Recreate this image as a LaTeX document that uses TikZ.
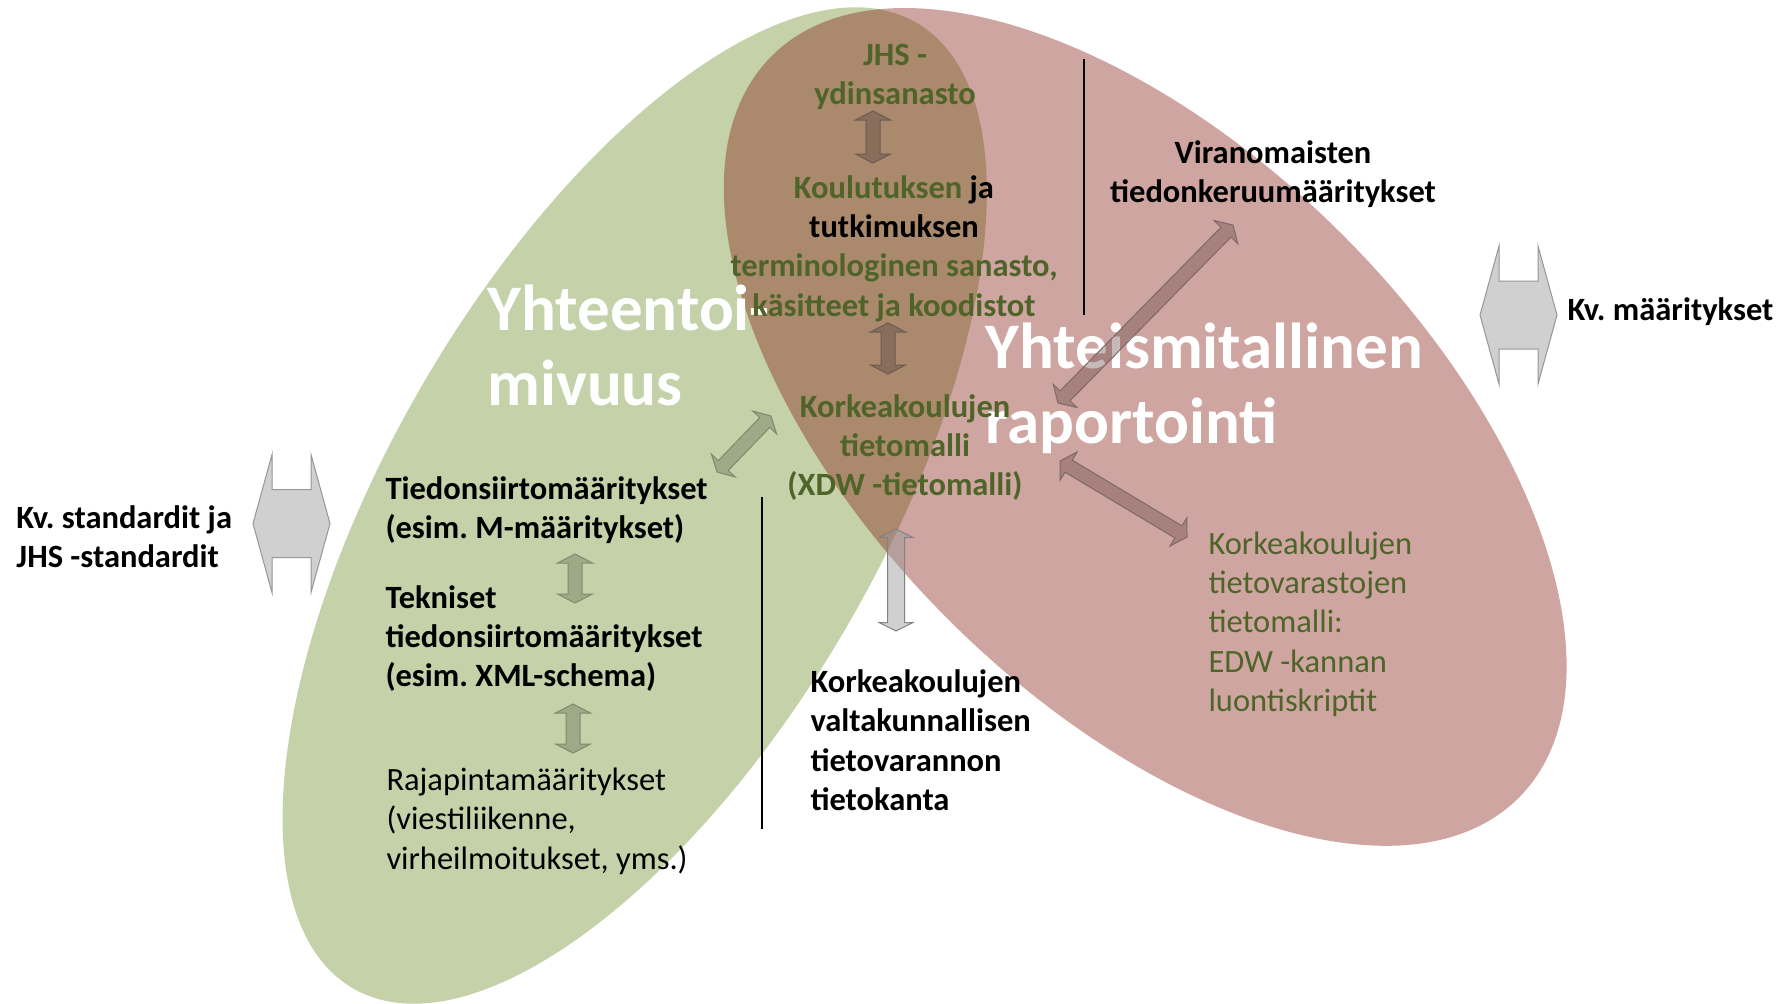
\documentclass[tikz,border=0pt]{standalone}
\usepackage{fontspec}
\setmainfont{Carlito}
\usetikzlibrary{calc}
\frenchspacing

\definecolor{ellgreen}{RGB}{196,209,169}
\definecolor{ellred}{RGB}{135,30,20}
\definecolor{olivetext}{RGB}{79,100,40}

% block arrow with two heads: [style]{from}{to}{head length}{shaft half width}{head half width}
\newcommand{\biarrow}[6][]{%
\draw [#1] (#2) -- ($(#2)!#4!(#3)!#6!90:(#3)$) -- ($(#2)!#4!(#3)!#5!90:(#3)$) -- ($(#3)!#4!(#2)!#5!-90:(#2)$) -- ($(#3)!#4!(#2)!#6!-90:(#2)$) -- (#3) -- ($(#3)!#4!(#2)!#6!90:(#2)$) -- ($(#3)!#4!(#2)!#5!90:(#2)$) -- ($(#2)!#4!(#3)!#5!-90:(#3)$) -- ($(#2)!#4!(#3)!#6!-90:(#3)$) -- cycle ;}

\tikzset{
  txt/.style={inner sep=0pt, anchor=north west, align=left, font=\fontsize{13}{15.7}\selectfont\bfseries},
  ctxt/.style={txt, anchor=north, align=center},
  regtxt/.style={txt, font=\fontsize{13}{15.7}\selectfont},
  bigtxt/.style={txt, text=white, font=\fontsize{26}{30}\selectfont\bfseries},
  brownarr/.style={fill={rgb,255:red,138;green,110;blue,92}, draw={rgb,255:red,105;green,90;blue,85}, line width=0.4pt},
  greenarr/.style={fill={rgb,255:red,157;green,170;blue,135}, draw={rgb,255:red,125;green,138;blue,108}, line width=0.4pt},
  grayarr/.style={fill={rgb,255:red,150;green,150;blue,150}, fill opacity=0.45, draw={rgb,255:red,130;green,130;blue,130}, line width=0.4pt},
  redarr/.style={fill={rgb,255:red,90;green,60;blue,60}, fill opacity=0.35, draw={rgb,255:red,125;green,105;blue,105}, line width=0.4pt},
  kvarr/.style={fill={rgb,255:red,208;green,208;blue,208}, draw={rgb,255:red,150;green,150;blue,150}, line width=0.4pt},
}

\begin{document}
\begin{tikzpicture}[x=0.4pt,y=0.4pt,yscale=-1,xscale=1]
\useasboundingbox (0,0) rectangle (1785,1003);

%Shape: Ellipse [Yhteentoimivuus]
\fill [ellgreen, shift={(634.7,505.5)}, rotate=-59.7] (0,0) ellipse [x radius=559, y radius=244.2];
%Shape: Ellipse [Yhteismitallinen raportointi]
\fill [ellred, fill opacity=0.4, shift={(1145.2,426.9)}, rotate=44.7] (0,0) ellipse [x radius=526.4, y radius=275.4];

% Text Node
\draw (487,277.5) node (yhte) [bigtxt] {\strut Yhteentoi-\\mivuus};
% Text Node
\draw (985,315.5) node (yhtm) [bigtxt] {\strut Yhteismitallinen\\raportointi};

% Text Node
\draw (895,37.5) node (jhs) [ctxt, text=olivetext] {\strut JHS -\\ydinsanasto};
% Text Node
\draw (894,170.5) node (kou) [ctxt] {\strut\textcolor{olivetext}{Koulutuksen} ja\\tutkimuksen\\\textcolor{olivetext}{terminologinen sanasto,}\\\textcolor{olivetext}{käsitteet ja koodistot}};
% Text Node
\draw (905,389.5) node (xdw) [ctxt, text=olivetext] {\strut Korkeakoulujen\\tietomalli\\(XDW -tietomalli)};
% Text Node
\draw (1273,135.5) node (vir) [ctxt] {\strut Viranomaisten\\tiedonkeruumääritykset};
% Text Node
\draw (385,471.5) node (tied) [txt] {\strut Tiedonsiirtomääritykset\\(esim. M-määritykset)};
% Text Node
\draw (385,580.5) node (tek) [txt] {\strut Tekniset\\tiedonsiirtomääritykset\\(esim. XML-schema)};
% Text Node
\draw (386,762.5) node (raja) [regtxt] {\strut Rajapintamääritykset\\(viestiliikenne,\\virheilmoitukset, yms.)};
% Text Node
\draw (16,500.5) node (kvst) [txt] {\strut Kv. standardit ja\\JHS -standardit};
% Text Node
\draw (1567,292.5) node (kvm) [txt] {\strut Kv. määritykset};
% Text Node
\draw (810,664.5) node (valt) [txt] {\strut Korkeakoulujen\\valtakunnallisen\\tietovarannon\\tietokanta};
% Text Node
\draw (1208,526.5) node (edw) [regtxt, text=olivetext] {\strut Korkeakoulujen\\tietovarastojen\\tietomalli:\\EDW -kannan\\luontiskriptit};

%Straight Lines
\draw [line width=0.6pt] (1084,59) -- (1084,315) ;
%Straight Lines
\draw [line width=0.6pt] (762,497) -- (762,829) ;

% arrow ends
\coordinate (jhsA) at (873,111);  \coordinate (jhsB) at (873,163);
\coordinate (kouA) at (888,323);  \coordinate (kouB) at (888,374);
\coordinate (tiedA) at (717,472); \coordinate (tiedB) at (771,416);
\coordinate (tekA) at (575,554);  \coordinate (tekB) at (575,603);
\coordinate (rajaA) at (573,704); \coordinate (rajaB) at (573,753);
\coordinate (valtA) at (896,529); \coordinate (valtB) at (896,631);
\coordinate (virA) at (1233,225); \coordinate (virB) at (1058,403);
\coordinate (edwA) at (1060,461); \coordinate (edwB) at (1187,537);
\coordinate (kvstA) at (253,523.5); \coordinate (kvstB) at (330,523.5);
\coordinate (kvmA) at (1480,315); \coordinate (kvmB) at (1557,315);

%Up Down Arrows
\biarrow[brownarr]{jhsA}{jhsB}{3.6pt}{2.8pt}{7pt}
\biarrow[brownarr]{kouA}{kouB}{3.6pt}{2.8pt}{7pt}
\biarrow[greenarr]{tiedA}{tiedB}{3.6pt}{2.8pt}{6.6pt}
\biarrow[greenarr]{tekA}{tekB}{3.6pt}{2.8pt}{7pt}
\biarrow[greenarr]{rajaA}{rajaB}{3.6pt}{2.8pt}{7pt}
\biarrow[grayarr]{valtA}{valtB}{3.4pt}{3.4pt}{6.8pt}
\biarrow[redarr]{virA}{virB}{4pt}{2.8pt}{6.6pt}
\biarrow[redarr]{edwA}{edwB}{4pt}{2.8pt}{6.6pt}
%Left Right Arrows
\biarrow[kvarr]{kvstA}{kvstB}{7.6pt}{13.6pt}{27.6pt}
\biarrow[kvarr]{kvmA}{kvmB}{7.6pt}{13.6pt}{27.6pt}

\end{tikzpicture}
\end{document}
